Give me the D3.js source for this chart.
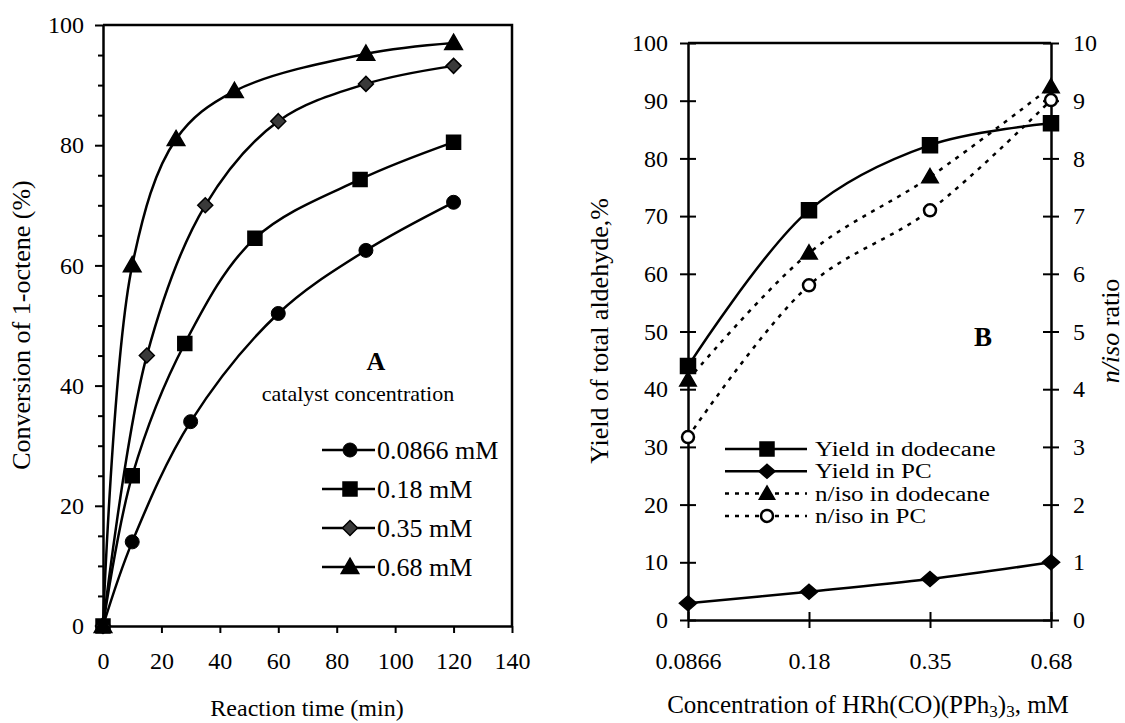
<!DOCTYPE html>
<html><head><meta charset="utf-8">
<script src="https://cdn.jsdelivr.net/npm/d3@7"></script>
<style>
body{margin:0;background:#fff;}
svg{display:block;font-family:"Liberation Serif","Times New Roman",serif;}
</style></head><body>
<svg id="chart" width="1125" height="723"></svg>
<script>
// ---------- Panel A: conversion of 1-octene vs reaction time ----------
const seriesALabels = ["0.0866 mM", "0.18 mM", "0.35 mM", "0.68 mM"];
const seriesAMarkers = ["circle", "square", "diamond", "triangle"];
const timeC1 = [0, 10, 30, 60, 90, 120];
const convC1 = [0, 14, 34, 52, 62.5, 70.5];
const timeC2 = [0, 10, 28, 52, 88, 120];
const convC2 = [0, 25, 47, 64.5, 74.3, 80.5];
const timeC3 = [0, 15, 35, 60, 90, 120];
const convC3 = [0, 45, 70, 84, 90.2, 93.2];
const timeC4 = [0, 10, 25, 45, 90, 120];
const convC4 = [0, 60, 81, 89, 95.2, 97];
const timeTicks = [0, 20, 40, 60, 80, 100, 120, 140];

// ---------- Panel B: yield and n/iso vs catalyst concentration ----------
const concentrations = ["0.0866", "0.18", "0.35", "0.68"];
const yieldDodecane = [44, 71, 82.3, 86.1];
const yieldPC = [2.9, 4.9, 7.1, 10];
const nisoDodecane = [4.16, 6.36, 7.68, 9.24];
const nisoPC = [3.17, 5.8, 7.1, 9.01];
const seriesBLabels = ["Yield in dodecane", "Yield in PC", "n/iso in dodecane", "n/iso in PC"];

const svg = d3.select("#chart");
const AX = 2.5;
const FONT = "'Liberation Serif', 'Times New Roman', serif";

// draws one point symbol centred on (x, y)
function marker(g, type, x, y, s, opts = {}) {
  let path;
  if (type === "circle") {
    g.append("circle").attr("cx", x).attr("cy", y).attr("r", s)
      .attr("fill", opts.hollow ? "#fff" : "#000").attr("stroke", "#000")
      .attr("stroke-width", opts.hollow ? 2.5 : 1);
    return;
  }
  if (type === "square") path = `M${x - s},${y - s}h${2 * s}v${2 * s}h${-2 * s}Z`;
  if (type === "diamond") {
    const w = s * (opts.wide || 1);
    path = `M${x},${y - s}L${x + w},${y}L${x},${y + s}L${x - w},${y}Z`;
  }
  if (type === "triangle") path = `M${x},${y - s * 1.1}L${x + s * 1.1},${y + s * 0.8}L${x - s * 1.1},${y + s * 0.8}Z`;
  g.append("path").attr("d", path)
    .attr("fill", opts.fill || "#000")
    .attr("stroke", "#000").attr("stroke-width", 1.5);
}

function styleAxis(g) {
  g.attr("font-family", FONT);
  g.selectAll("path.domain").attr("stroke", "#000").attr("stroke-width", AX);
  g.selectAll(".tick line").attr("stroke", "#000").attr("stroke-width", 2);
  g.selectAll(".tick text").attr("fill", "#000").attr("font-size", 24);
}

// ===== Panel A =====
const xA = d3.scaleLinear().domain([0, 140]).range([103, 512]);
const yA = d3.scaleLinear().domain([0, 100]).range([626, 25]);
const gA = svg.append("g");

const yAxisA = gA.append("g").attr("transform", `translate(${xA(0)},0)`)
  .call(d3.axisLeft(yA).tickValues(d3.range(0, 101, 5)).tickSize(8).tickSizeOuter(0).tickPadding(11)
    .tickFormat(d => d % 20 === 0 ? d : ""));
styleAxis(yAxisA);
yAxisA.selectAll(".tick").filter(d => d % 20 !== 0).select("line").attr("x2", -5);

const xAxisA = gA.append("g").attr("transform", `translate(0,${yA(0)})`)
  .call(d3.axisBottom(xA).tickValues(timeTicks).tickSize(7).tickSizeOuter(0).tickPadding(19));
styleAxis(xAxisA);

// frame
gA.append("path").attr("d", `M${xA(0)},${yA(100)}H${xA(140)}V${yA(0)}`)
  .attr("fill", "none").attr("stroke", "#000").attr("stroke-width", AX);

const lineA = d3.line().x(d => xA(d[0])).y(d => yA(d[1])).curve(d3.curveCatmullRom.alpha(0.5));
const seriesA = [[timeC1, convC1], [timeC2, convC2], [timeC3, convC3], [timeC4, convC4]];
const sizesA = {circle: 7, square: 7, diamond: 7.5, triangle: 8};
const fillA = {circle: "#000", square: "#000", diamond: "#3a3a3a", triangle: "#000"};
seriesA.forEach(([t, c], i) => {
  const pts = t.map((v, j) => [v, c[j]]);
  const m = seriesAMarkers[i];
  gA.append("path").attr("d", lineA(pts)).attr("fill", "none")
    .attr("stroke", "#000").attr("stroke-width", 2.5);
  pts.forEach(p => marker(gA, m, xA(p[0]), yA(p[1]), sizesA[m], {fill: fillA[m]}));
});

gA.append("text").attr("x", 376).attr("y", 370).attr("text-anchor", "middle")
  .attr("font-size", 26).attr("font-weight", "bold").text("A");
gA.append("text").attr("x", 358).attr("y", 401).attr("text-anchor", "middle")
  .attr("font-size", 22).text("catalyst concentration");

const legA = gA.append("g");
seriesALabels.forEach((lab, i) => {
  const y = 450 + i * 39;
  const m = seriesAMarkers[i];
  legA.append("line").attr("x1", 322).attr("x2", 375).attr("y1", y).attr("y2", y)
    .attr("stroke", "#000").attr("stroke-width", 2.5);
  marker(legA, m, 350, y, sizesA[m], {fill: fillA[m]});
  legA.append("text").attr("x", 377).attr("y", y + 9).attr("font-size", 26).text(lab);
});

gA.append("text").attr("x", 307).attr("y", 716).attr("text-anchor", "middle")
  .attr("font-size", 24).text("Reaction time (min)");
gA.append("text").attr("transform", "translate(30,325) rotate(-90)").attr("text-anchor", "middle")
  .attr("font-size", 26).text("Conversion of 1-octene (%)");

// ===== Panel B =====
const xB = d3.scalePoint().domain(concentrations).range([688, 1051]);
const yB = d3.scaleLinear().domain([0, 100]).range([620, 43]);
const yB2 = d3.scaleLinear().domain([0, 10]).range([620, 43]);
const gB = svg.append("g");

const yAxisB = gB.append("g").attr("transform", `translate(${xB(concentrations[0])},0)`)
  .call(d3.axisLeft(yB).ticks(10).tickSize(8).tickSizeOuter(0).tickPadding(12));
styleAxis(yAxisB);
yAxisB.selectAll(".tick line").attr("x2", -8).attr("x1", 8);

const yAxisB2 = gB.append("g").attr("transform", `translate(${xB(concentrations[3])},0)`)
  .call(d3.axisRight(yB2).ticks(10).tickSize(8).tickSizeOuter(0).tickPadding(14));
styleAxis(yAxisB2);
yAxisB2.selectAll(".tick line").attr("x1", -8).attr("x2", 8);

const xAxisB = gB.append("g").attr("transform", `translate(0,${yB(0)})`)
  .call(d3.axisBottom(xB).tickSize(8).tickSizeOuter(0).tickPadding(24));
styleAxis(xAxisB);
xAxisB.selectAll(".tick line").attr("y1", -8).attr("y2", 8);

gB.append("line").attr("x1", xB(concentrations[0])).attr("x2", xB(concentrations[3]))
  .attr("y1", yB(100)).attr("y2", yB(100)).attr("stroke", "#000").attr("stroke-width", AX);

const curveB = d3.curveCatmullRom.alpha(0.5);
const lineYield = d3.line().x((d, i) => xB(concentrations[i])).y(d => yB(d)).curve(curveB);
const lineRatio = d3.line().x((d, i) => xB(concentrations[i])).y(d => yB2(d)).curve(curveB);

const dash = "4,6";
gB.append("path").attr("d", lineRatio(nisoPC)).attr("fill", "none").attr("stroke", "#000")
  .attr("stroke-width", 2.5).attr("stroke-dasharray", dash);
gB.append("path").attr("d", lineRatio(nisoDodecane)).attr("fill", "none").attr("stroke", "#000")
  .attr("stroke-width", 2.5).attr("stroke-dasharray", dash);
gB.append("path").attr("d", lineYield(yieldDodecane)).attr("fill", "none").attr("stroke", "#000")
  .attr("stroke-width", 2.5);
gB.append("path").attr("d", lineYield(yieldPC)).attr("fill", "none").attr("stroke", "#000")
  .attr("stroke-width", 2.5);

const markB = [
  ["square", 7.5, {}],
  ["diamond", 7.5, {wide: 1.15}],
  ["triangle", 7.5, {}],
  ["circle", 6, {hollow: true}]
];
yieldDodecane.forEach((v, i) => marker(gB, markB[0][0], xB(concentrations[i]), yB(v), markB[0][1], markB[0][2]));
yieldPC.forEach((v, i) => marker(gB, markB[1][0], xB(concentrations[i]), yB(v), markB[1][1], markB[1][2]));
nisoDodecane.forEach((v, i) => marker(gB, markB[2][0], xB(concentrations[i]), yB2(v), markB[2][1], markB[2][2]));
nisoPC.forEach((v, i) => marker(gB, markB[3][0], xB(concentrations[i]), yB2(v), markB[3][1], markB[3][2]));

// legend (text slightly widened to the wide face used in the plot)
const legB = gB.append("g");
seriesBLabels.forEach((lab, i) => {
  const y = 449 + i * 22.3;
  const ln = legB.append("line").attr("x1", 725).attr("x2", 807).attr("y1", y).attr("y2", y)
    .attr("stroke", "#000").attr("stroke-width", 2.5);
  if (i >= 2) ln.attr("stroke-dasharray", dash);
  const [m, s, o] = markB[i];
  marker(legB, m, 767, y, m === "circle" ? 6 : 7, o);
  const t = legB.append("text").attr("x", 815).attr("y", y + 7).attr("font-size", 20).text(lab);
  const natural = t.node().getComputedTextLength();
  t.attr("textLength", natural * 1.25).attr("lengthAdjust", "spacingAndGlyphs");
});

gB.append("text").attr("x", 983).attr("y", 346).attr("text-anchor", "middle")
  .attr("font-size", 27).attr("font-weight", "bold").text("B");

const xt = gB.append("text").attr("x", 868).attr("y", 713).attr("text-anchor", "middle").attr("font-size", 25);
xt.append("tspan").text("Concentration of HRh(CO)(PPh");
xt.append("tspan").attr("font-size", 17).attr("dy", 4).text("3");
xt.append("tspan").attr("dy", -4).text(")");
xt.append("tspan").attr("font-size", 17).attr("dy", 4).text("3");
xt.append("tspan").attr("dy", -4).text(", mM");

gB.append("text").attr("transform", "translate(608,331) rotate(-90)").attr("text-anchor", "middle")
  .attr("font-size", 26).text("Yield of total aldehyde,%");
const rt = gB.append("text").attr("transform", "translate(1119,331) rotate(-90)").attr("text-anchor", "middle")
  .attr("font-size", 26);
rt.append("tspan").attr("font-style", "italic").text("n/iso");
rt.append("tspan").text(" ratio");
</script>
</body></html>
